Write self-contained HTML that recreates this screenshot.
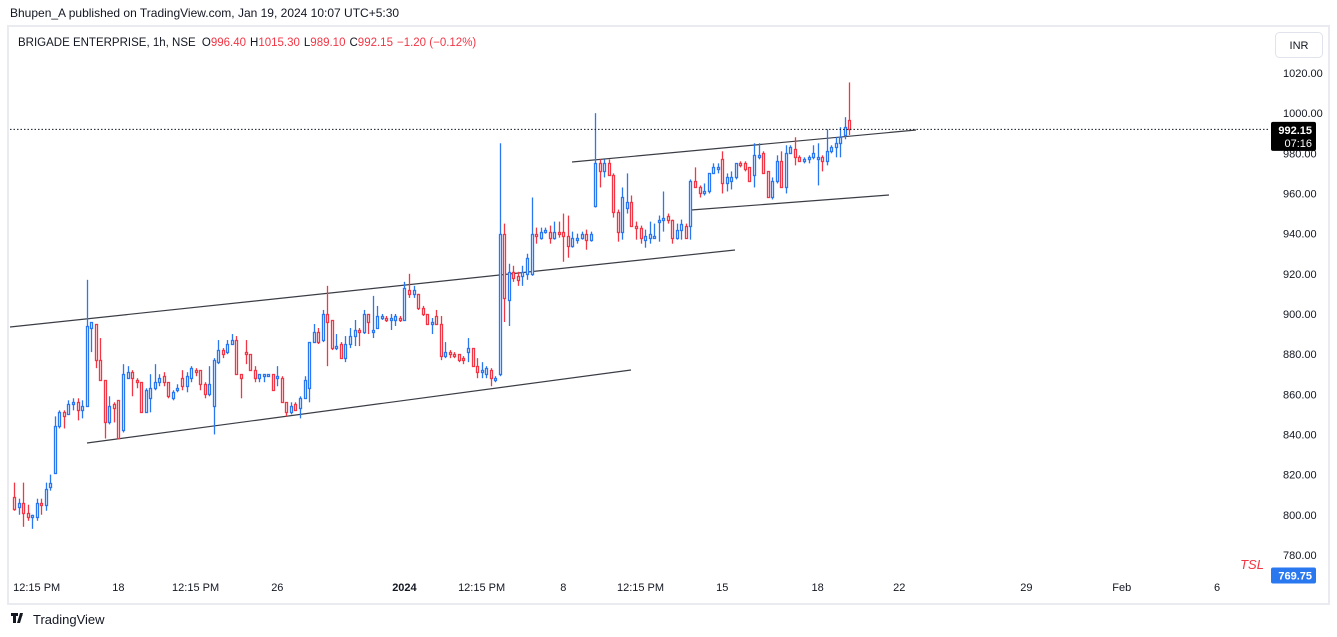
<!DOCTYPE html>
<html><head><meta charset="utf-8"><style>
body{margin:0;background:#fff;font-family:"Liberation Sans",sans-serif;}
#wrap{position:relative;width:1337px;height:637px;overflow:hidden;background:#fff}
</style></head><body>
<div id="wrap">
<svg id="svg" width="1337" height="637" xmlns="http://www.w3.org/2000/svg" font-family="Liberation Sans, sans-serif">
 <rect x="8" y="26" width="1321" height="578" fill="#fff" stroke="#e9ebf1" stroke-width="2"/>
 <text x="10" y="17" font-size="12" fill="#131722">Bhupen_A published on TradingView.com, Jan 19, 2024 10:07 UTC+5:30</text>
 <text x="18" y="46" font-size="11.5" fill="#131722">BRIGADE ENTERPRISE, 1h, NSE <tspan dx="3">O</tspan><tspan fill="#f23645">996.40</tspan><tspan dx="4">H</tspan><tspan fill="#f23645">1015.30</tspan><tspan dx="4">L</tspan><tspan fill="#f23645">989.10</tspan><tspan dx="4">C</tspan><tspan fill="#f23645">992.15</tspan><tspan dx="4" fill="#f23645">−1.20 (−0.12%)</tspan></text>
 <rect x="1275.5" y="32.5" width="47" height="25" rx="4" fill="#fff" stroke="#e0e3eb"/>
 <text x="1299" y="49" font-size="11" fill="#131722" text-anchor="middle">INR</text>
 <g id="yaxis"></g>
 <g id="xaxis"></g>
 <g id="lines">
  <line x1="10" y1="327" x2="735" y2="250" stroke="#3a3d45" stroke-width="1.2"/>
  <line x1="87" y1="443" x2="631" y2="370" stroke="#3a3d45" stroke-width="1.2"/>
  <line x1="572" y1="162" x2="916" y2="130" stroke="#3a3d45" stroke-width="1.2"/>
  <line x1="691" y1="210" x2="889" y2="195" stroke="#3a3d45" stroke-width="1.2"/>
 </g>
 <g id="candles"></g>
 <line id="lastline" x1="10" x2="1270" stroke="#131722" stroke-dasharray="1.5,2"/>
 <g id="labels"></g>
 <text x="1252" y="569" font-size="13" font-style="italic" fill="#f23645" text-anchor="middle">TSL</text>
 <g>
  <path d="M11 613h7v3h-2v7h-3v-7h-2zM20 613h3l-3 10h-3z" fill="#131722"/>
  <circle cx="21" cy="615" r="1.5" fill="#131722"/>
  <text x="33" y="624" font-size="13" fill="#131722">TradingView</text>
 </g>
</svg>
</div>
<script>
const opens=[809,804,806,801,799,799,806,805,814,821,844,851,850,855,856,852,854,893,895,877,867,846,855,857,842,868,871,867,866,851,858,863,866,869,866,858,862,868,864,868,872,872,865,860,854,876,882,881,885,887,870,881,880,872,868,869,869,870,868,868,856,851,855,853,858,863,886,891,887,900,897,883,885,878,885,889,892,891,900,891,893,898,898,897,897,898,897,912,910,910,903,900,895,899,895,879,881,880,880,878,881,883,874,871,870,872,867,870,940,907,921,919,919,920,920,940,938,941,941,938,941,941,939,934,937,938,940,937,954,975,971,975,969,951,941,953,956,944,943,937,938,938,946,947,949,947,938,942,944,944,966,963,960,961,970,972,977,965,966,968,975,975,973,969,978,980,971,958,966,976,963,980,982,978,976,977,978,977,978,976,981,983,985,989,996.4];
const highs=[816,808,816,805,800,808,808,816,820,849,852,852,857,858,858,857,917,896,895,888,867,859,856,857,875,874,872,868,866,863,870,875,870,871,866,862,865,872,871,874,873,872,866,874,878,887,883,887,890,889,870,887,880,874,870,870,870,870,874,869,856,856,856,859,869,886,895,893,902,914,897,890,886,889,893,897,893,902,900,909,904,900,899,900,900,899,916,920,914,910,904,900,898,902,899,886,882,881,880,879,888,883,878,876,874,873,869,985,945,925,924,921,924,930,958,943,943,943,944,946,946,950,949,941,940,941,942,941,1000,977,977,977,970,952,963,970,959,946,944,942,946,945,949,961,950,947,945,947,945,967,973,964,965,970,975,975,981,970,971,975,976,976,973,985,985,981,971,968,979,981,984,984,988,979,978,979,984,985,979,992,984,988,993,998,1015.3];
const lows=[802,800,794,797,793,797,800,802,812,821,843,843,850,852,847,848,854,881,873,867,838,845,846,838,841,868,859,863,851,851,851,862,864,864,858,857,861,862,861,866,869,862,858,859,840,875,878,880,885,870,858,875,872,866,866,866,869,862,864,856,849,850,852,848,858,856,886,885,886,874,882,882,878,876,883,884,884,890,890,888,893,897,896,892,894,896,897,908,908,902,899,895,890,895,877,878,878,878,876,875,876,874,868,868,868,864,866,869,896,894,916,914,914,917,919,935,937,940,935,937,938,926,928,933,935,937,932,936,953,963,968,969,948,936,937,950,944,937,935,933,935,938,936,941,945,935,937,937,938,937,963,958,959,960,970,970,960,961,962,967,973,971,966,963,977,970,958,957,965,963,960,980,974,976,975,975,977,964,971,974,980,978,978,987,989.1];
const closes=[803,806,801,799,800,806,805,813,816,844,851,849,855,856,852,854,894,896,877,867,846,854,853,838,870,871,868,866,851,862,863,866,868,866,859,861,863,864,869,873,871,865,860,865,877,882,880,885,887,870,868,880,872,868,870,870,870,862,869,856,851,854,852,858,867,886,891,886,900,896,883,884,878,885,889,892,891,900,896,892,899,899,897,898,899,897,913,910,912,903,900,895,896,895,879,881,880,879,877,877,883,874,871,872,873,868,868,940,908,921,918,917,921,928,940,939,941,942,938,941,940,939,934,938,938,940,937,940,975,971,975,969,951,941,958,956,944,943,938,939,940,939,947,948,947,938,942,945,938,966,963,960,961,970,973,973,965,968,968,975,974,972,966,979,979,970,958,966,976,963,980,983,978,976,977,978,980,978,976,981,983,985,988,993,992.15];
const priceTicks=[1020,1000,980,960,940,920,900,880,860,840,820,800,780];
const timeLabels=["12:15 PM","18","12:15 PM","26","2024","12:15 PM","8","12:15 PM","15","18","22","29","Feb","6"];
const timeLabelBars=[5,23,40,58,86,103,121,138,156,177,195,223,244,265];
const lastPrice=992.15, tslValue=769.75;

const NS="http://www.w3.org/2000/svg";
const Y=p=>73+(1020-p)*2.008;
const X=i=>14+i*4.54;
function mk(tag,attrs,parent){const e=document.createElementNS(NS,tag);for(const k in attrs)e.setAttribute(k,attrs[k]);parent.appendChild(e);return e;}
const ya=document.getElementById('yaxis');
priceTicks.forEach(p=>{
  const t=mk('text',{x:1283,y:Y(p)+4,'font-size':11,fill:'#131722'},ya);
  
  
  t.textContent=p.toFixed(2);
});
const xa=document.getElementById('xaxis');
timeLabels.forEach((s,i)=>{
  const t=mk('text',{x:X(timeLabelBars[i]),y:591,'font-size':11,fill:'#131722','text-anchor':'middle','font-weight':s==='2024'?'bold':'normal'},xa);
  
  
  t.textContent=s;
});
const cg=document.getElementById('candles');
for(let i=0;i<closes.length;i++){
  const up=closes[i]>=opens[i], col=up?'#2a78f0':'#f23645', c=Math.round(X(i)), x=c+0.5;
  const g=mk('g',{},cg);
  
  
  const top=Math.round(Y(Math.max(opens[i],closes[i])))+0.5, bot=Math.round(Y(Math.min(opens[i],closes[i])))+0.5;
  mk('line',{x1:x,x2:x,y1:Y(highs[i]),y2:top,stroke:col,'stroke-width':1.3},g);
  mk('line',{x1:x,x2:x,y1:bot,y2:Y(lows[i]),stroke:col,'stroke-width':1.3},g);
  mk('rect',{x:c-0.5,y:top,width:2,height:Math.max(bot-top,1),fill:'#fff',stroke:col,'stroke-width':1.3},g);
}
const ll=document.getElementById('lastline');
ll.setAttribute('y1',Y(lastPrice)+0.5);ll.setAttribute('y2',Y(lastPrice)+0.5);
const lb=document.getElementById('labels');
const ly=Y(lastPrice);
const r1=mk('rect',{x:1271,y:ly-7,width:45,height:29,fill:'#000',rx:2},lb);


const t1=mk('text',{x:1312,y:ly+5,'font-size':11,'font-weight':'bold',fill:'#fff','text-anchor':'end'},lb);


t1.textContent=lastPrice.toFixed(2);
const t2=mk('text',{x:1312,y:ly+18,'font-size':11,fill:'#fff','text-anchor':'end'},lb);


t2.textContent='07:16';
const ty=Y(tslValue);
const r2=mk('rect',{x:1271,y:ty-8,width:45,height:16,fill:'#2a78f0',rx:2},lb);


const t3=mk('text',{x:1312,y:ty+4,'font-size':11,'font-weight':'bold',fill:'#fff','text-anchor':'end'},lb);


t3.textContent=tslValue.toFixed(2);
</script>
</body></html>
